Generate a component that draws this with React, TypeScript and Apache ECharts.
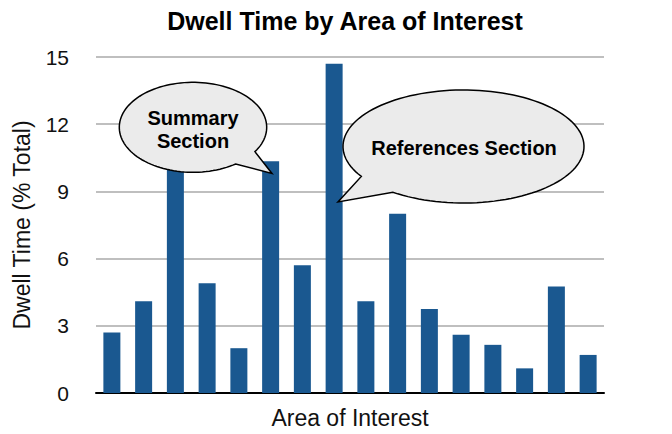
import React, { useEffect, useRef } from "react";
import * as echarts from "echarts";

const categories = ["A1", "A2", "A3", "A4", "A5", "A6", "A7", "A8", "A9", "A10", "A11", "A12", "A13", "A14", "A15", "A16"];
const dwellValues = [2.7, 4.1, 10.6, 4.9, 2.0, 10.35, 5.7, 14.7, 4.1, 8.0, 3.75, 2.6, 2.15, 1.1, 4.75, 1.7];
const titleText = "Dwell Time by Area of Interest";
const yAxisName = "Dwell Time (% Total)";
const xAxisName = "Area of Interest";
const summaryLabel = "Summary\nSection";
const referencesLabel = "References Section";

const FONT = '"Liberation Sans", Arial, Helvetica, sans-serif';

function bubblePoints(cx: number, cy: number, rx: number, ry: number, a1: number, a2: number, tip: number[]) {
  const pts: number[][] = [];
  const steps = 120;
  for (let i = 0; i <= steps; i++) {
    const a = ((a1 + ((a2 - a1) * i) / steps) * Math.PI) / 180;
    pts.push([cx + rx * Math.cos(a), cy + ry * Math.sin(a)]);
  }
  pts.push(tip);
  return pts;
}

export default function App() {
  const ref = useRef<HTMLDivElement>(null);
  useEffect(() => {
    if (!ref.current) return;
    document.body.style.margin = "0";
    const chart = echarts.init(ref.current, undefined, { renderer: "svg" });
    const bubbleStyle = { fill: "#ebebeb", stroke: "#000", lineWidth: 1.5 };
    chart.setOption({
      animation: false,
      grid: { left: 96, right: 68, top: 57, bottom: 40, containLabel: false },
      xAxis: {
        type: "category",
        data: categories,
        name: xAxisName,
        nameLocation: "middle",
        nameGap: 13,
        nameTextStyle: { fontFamily: FONT, fontSize: 23, color: "#111", verticalAlign: "top" },
        axisLine: { show: true, lineStyle: { color: "#000", width: 2 } },
        axisTick: { show: false },
        axisLabel: { show: false },
      },
      yAxis: {
        type: "value",
        min: 0,
        max: 15,
        interval: 3,
        name: yAxisName,
        nameLocation: "middle",
        nameGap: 63,
        nameTextStyle: { fontFamily: FONT, fontSize: 23, color: "#111" },
        axisLine: { show: false },
        axisTick: { show: false },
        axisLabel: { fontFamily: FONT, fontSize: 21, color: "#111", margin: 27 },
        splitLine: { lineStyle: { color: "#aaaaaa", width: 1.5 } },
      },
      series: [
        {
          type: "bar",
          data: dwellValues,
          barWidth: 17,
          itemStyle: { color: "#1a5890" },
        },
      ],
      graphic: [
        {
          type: "text",
          x: 345,
          y: 8,
          z: 100,
          style: {
            text: titleText,
            font: `bold 25px ${FONT}`,
            fill: "#000",
            textAlign: "center",
            textVerticalAlign: "top",
          },
        },
        {
          type: "polygon",
          z: 100,
          shape: { points: bubblePoints(193, 127.3, 73.7, 45, 54.5, 392.8, [272, 173.5]) },
          style: bubbleStyle,
        },
        {
          type: "text",
          x: 193,
          y: 129,
          z: 101,
          style: {
            text: summaryLabel,
            font: `bold 20px ${FONT}`,
            lineHeight: 23,
            fill: "#000",
            textAlign: "center",
            textVerticalAlign: "middle",
          },
        },
        {
          type: "polygon",
          z: 100,
          shape: { points: bubblePoints(463.5, 146.5, 120.5, 56.5, 148, 485.9, [338, 202]) },
          style: bubbleStyle,
        },
        {
          type: "text",
          x: 464,
          y: 148,
          z: 101,
          style: {
            text: referencesLabel,
            font: `bold 20px ${FONT}`,
            fill: "#000",
            textAlign: "center",
            textVerticalAlign: "middle",
          },
        },
      ],
    });
    return () => chart.dispose();
  }, []);
  return <div ref={ref} style={{ width: 672, height: 434 }} />;
}
